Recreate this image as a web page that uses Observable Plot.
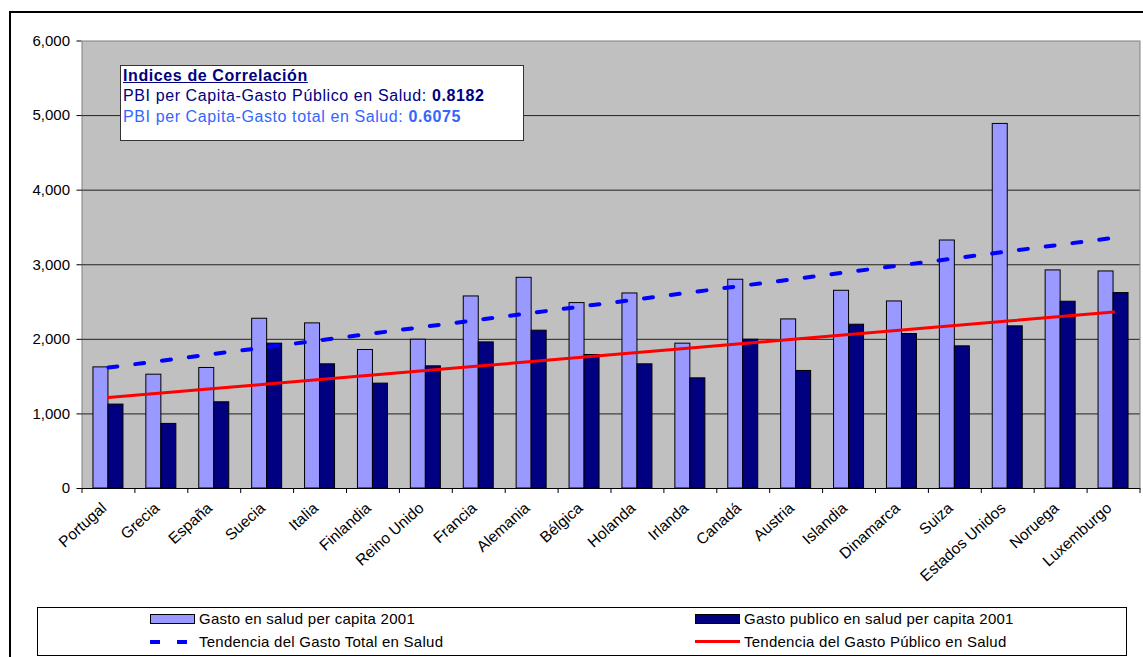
<!DOCTYPE html>
<html>
<head>
<meta charset="utf-8">
<script src="https://cdn.jsdelivr.net/npm/d3@7"></script>
<script src="https://cdn.jsdelivr.net/npm/@observablehq/plot@0.6"></script>
<style>
  html, body { margin: 0; padding: 0; background: #fff; width: 1143px; height: 657px; overflow: hidden; }
  body { position: relative; font-family: "Liberation Sans", Arial, sans-serif; }
  #outer { position: absolute; left: 9px; top: 11px; width: 1300px; height: 800px; border: 2px solid #000; }
  #chart { position: absolute; left: 0; top: 0; }
  #note { position: absolute; left: 120px; top: 65px; width: 400px; height: 74px; background: #fff; border: 1px solid #333;
          font-size: 16px; line-height: 20.4px; padding-left: 2px; letter-spacing: 0.6px; }
  #note .t { color: #000080; font-weight: bold; text-decoration: underline; }
  #note .a { color: #000080; }
  #note .b { color: #3366ff; }
  #legend { position: absolute; left: 37px; top: 607px; width: 1088px; height: 47px; border: 1px solid #000; background: #fff; }
  .lg { position: absolute; font-size: 15px; line-height: 20px; letter-spacing: 0.25px; color: #000; white-space: nowrap; }
  .sw { position: absolute; box-sizing: border-box; }
</style>
</head>
<body>
<div id="outer"></div>
<div id="chart"></div>
<div id="note"></div>
<div id="legend"></div>
<script>
// ---- data ----
const countries = ["Portugal","Grecia","España","Suecia","Italia","Finlandia","Reino Unido","Francia","Alemania","Bélgica",
  "Holanda","Irlanda","Canadá","Austria","Islandia","Dinamarca","Suiza","Estados Unidos","Noruega","Luxemburgo"];
const gastoTotal = [1624,1526,1616,2276,2214,1857,1995,2575,2825,2486,2615,1942,2799,2267,2651,2508,3325,4888,2924,2910];
const gastoPublico = [1125,866,1156,1942,1665,1406,1638,1959,2116,1790,1665,1477,1995,1576,2196,2071,1906,2174,2504,2620];
const yTicks = [0,1000,2000,3000,4000,5000,6000];
const seriesNames = ["Gasto en salud per capita 2001","Gasto publico en salud per capita 2001",
  "Tendencia del Gasto Total en Salud","Tendencia del Gasto Público en Salud"];
const noteTitle = "Indices de Correlación";
const corrLabels = ["PBI per Capita-Gasto Público en Salud: ","PBI per Capita-Gasto total en Salud: "];
const corrValues = ["0.8182","0.6075"];

// linear trend (least squares over category index), as Excel trendline
function trend(vals) {
  const n = vals.length, mi = (n - 1) / 2, mv = d3.mean(vals);
  let sxy = 0, sxx = 0;
  vals.forEach((v, i) => { sxy += (i - mi) * (v - mv); sxx += (i - mi) ** 2; });
  const b = sxy / sxx, a = mv - b * mi;
  return vals.map((_, i) => a + b * i);
}
const rows = countries.map((c, i) => ({country: c, total: gastoTotal[i], publico: gastoPublico[i]}));
const trendT = trend(gastoTotal), trendP = trend(gastoPublico);
const trendRows = countries.map((c, i) => ({country: c, t: trendT[i], p: trendP[i]}));

const W = 1143, mL = 81.5, mR = 3.5;
const bw = (W - mL - mR) / countries.length;
const barW = 15;
const side = (bw - 2 * barW) / 2;

const chart = Plot.plot({
  width: W, height: 600,
  marginLeft: mL, marginRight: mR, marginTop: 40.5, marginBottom: 112,
  style: {fontFamily: "'Liberation Sans', Arial, sans-serif", fontSize: "15px", color: "#000", background: "transparent", overflow: "visible"},
  x: {domain: countries, padding: 0, round: false, axis: null, label: null},
  y: {domain: [0, 6000], axis: null, label: null},
  marks: [
    Plot.frame({fill: "#c0c0c0", stroke: "#808080"}),
    Plot.ruleY(yTicks.slice(1, -1), {stroke: "#222"}),
    Plot.barY(rows, {x: "country", y: "total", fill: "#9999ff", stroke: "#000", strokeWidth: 1,
      insetLeft: side, insetRight: bw - side - barW}),
    Plot.barY(rows, {x: "country", y: "publico", fill: "#000080", stroke: "#000", strokeWidth: 1,
      insetLeft: side + barW, insetRight: side}),
    Plot.ruleY([0], {stroke: "#000"}),
    Plot.line(trendRows, {x: "country", y: "t", stroke: "#0000ff", strokeWidth: 4, strokeDasharray: "9,18"}),
    Plot.line(trendRows, {x: "country", y: "p", stroke: "#ff0000", strokeWidth: 3}),
    Plot.axisY({ticks: yTicks, tickSize: 5, tickPadding: 7, tickFormat: d3.format(","), fontSize: 15, stroke: "#000", label: null}),
    Plot.axisX({tickSize: 5, dx: -bw / 2, tickFormat: () => "", stroke: "#000", label: null}),
    Plot.axisX({ticks: [countries[countries.length - 1]], tickSize: 5, dx: bw / 2, tickFormat: () => "", stroke: "#000", label: null}),
    Plot.text(countries, {x: d => d, frameAnchor: "bottom", rotate: -42, textAnchor: "end", dx: -1, dy: 21, fontSize: 15.5, fill: "#000"})
  ]
});
document.getElementById("chart").appendChild(chart);

// annotation box
const note = document.getElementById("note");
note.innerHTML = `<div class="t">${noteTitle}</div>` +
  `<div class="a">${corrLabels[0]}<b>${corrValues[0]}</b></div>` +
  `<div class="b">${corrLabels[1]}<b>${corrValues[1]}</b></div>`;

// legend
const lg = document.getElementById("legend");
const ox = 37 + 1, oy = 607 + 1;
function add(html, x, y) { const d = document.createElement("div"); d.innerHTML = html; const e = d.firstChild; e.style.left = (x - ox) + "px"; e.style.top = (y - oy) + "px"; lg.appendChild(e); }
add(`<div class="sw" style="width:45px;height:10px;background:#9999ff;border:1px solid #000"></div>`, 150, 614);
add(`<div class="lg">${seriesNames[0]}</div>`, 199, 609);
add(`<div class="sw" style="width:45px;height:10px;background:#000080;border:1px solid #000"></div>`, 695, 614);
add(`<div class="lg">${seriesNames[1]}</div>`, 744, 609);
add(`<div class="sw" style="width:10px;height:4px;background:#0000ff"></div>`, 150, 640);
add(`<div class="sw" style="width:10px;height:4px;background:#0000ff"></div>`, 177, 640);
add(`<div class="lg">${seriesNames[2]}</div>`, 199, 632);
add(`<div class="sw" style="width:45px;height:3px;background:#ff0000"></div>`, 695, 640);
add(`<div class="lg">${seriesNames[3]}</div>`, 744, 632);
</script>
</body>
</html>
